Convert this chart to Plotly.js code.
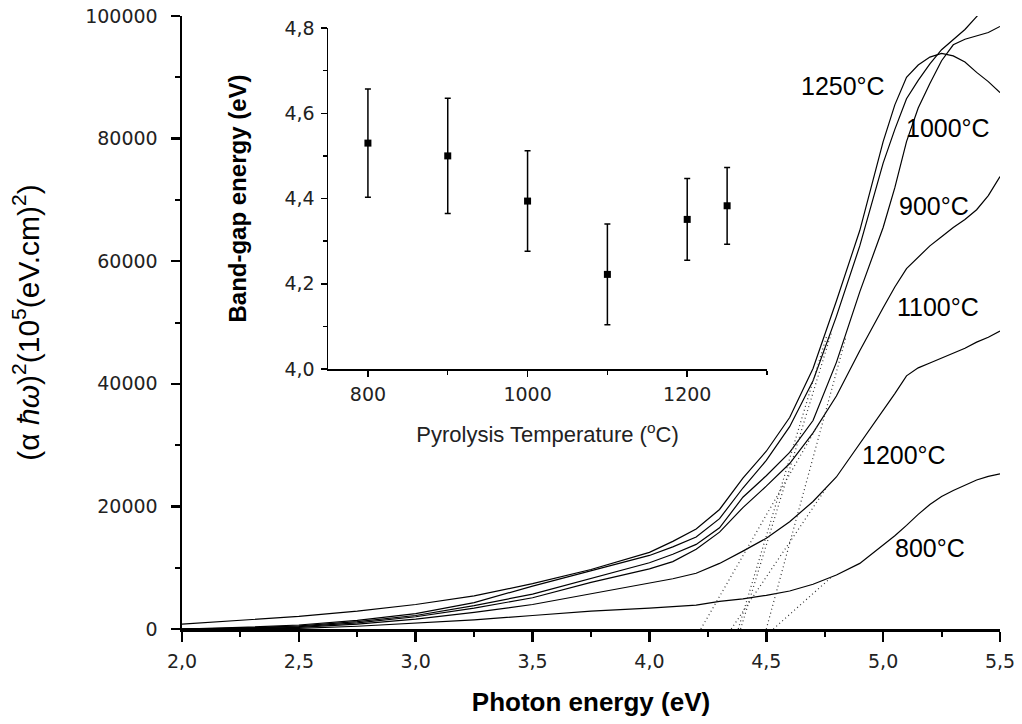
<!DOCTYPE html>
<html><head><meta charset="utf-8">
<script src="https://cdn.plot.ly/plotly-3.0.1.min.js"></script>
<style>html,body{margin:0;padding:0;background:#fff}#chart{width:1022px;height:724px}</style>
</head><body><div id="chart"></div>
<script>
// ---- main chart data: photon energy (eV) vs (alpha h-bar omega)^2 ----
const energy = [2.0, 2.25, 2.5, 2.75, 3.0, 3.25, 3.5, 3.75, 4.0, 4.1, 4.2, 4.3, 4.4, 4.5, 4.6, 4.7, 4.8, 4.9, 5.0, 5.05, 5.1, 5.15, 5.2, 5.25, 5.3, 5.35, 5.4, 5.45, 5.5];
const curve1250 = [800, 1400, 2050, 2900, 4000, 5400, 7400, 9700, 12500, 14300, 16300, 19500, 24600, 29000, 34500, 42500, 53500, 65000, 79500, 85500, 90000, 92000, 93300, 93900, 93500, 92500, 90800, 89300, 87500];
const curve1000 = [0, 250, 650, 1400, 2500, 4300, 7000, 9500, 12000, 13400, 15000, 18000, 23000, 27500, 33000, 40500, 51000, 62500, 76000, 81500, 86500, 89500, 92200, 94500, 96200, 97800, 99900, 102000, 104000];
const curve900 = [0, 150, 500, 1200, 2200, 3800, 5700, 8200, 10800, 12200, 13800, 16500, 21500, 25000, 28800, 34000, 43500, 55000, 65500, 72000, 79500, 85000, 89000, 92700, 95300, 96200, 96700, 97300, 98300];
const curve1100 = [0, 100, 400, 1000, 2000, 3400, 5100, 7600, 9800, 11000, 13000, 15800, 19800, 23300, 27000, 32000, 38000, 45400, 52400, 55800, 58800, 60700, 62500, 64000, 65500, 66800, 68400, 70700, 73800];
const curve1200 = [0, 50, 250, 800, 1600, 2700, 4000, 5700, 7400, 8200, 9100, 10700, 12700, 14800, 17500, 20800, 24800, 30200, 35600, 38400, 41300, 42600, 43400, 44200, 45000, 45800, 46800, 47600, 48600];
const curve800 = [0, 0, 100, 450, 1000, 1500, 2200, 2900, 3400, 3650, 3900, 4500, 4900, 5500, 6200, 7300, 8800, 10700, 13600, 15200, 16900, 18700, 20300, 21600, 22600, 23500, 24300, 24900, 25300];

// linear extrapolation (dotted) lines: start energy at zero, end point on the curve
const tangentTemps = [1250, 1000, 900, 1100, 1200, 800];
const tangentStartE = [4.38, 4.39, 4.50, 4.22, 4.35, 4.53];
const tangentEndE = [4.76, 4.78, 4.84, 4.72, 4.76, 4.78];
const tangentEndY = [48000, 48500, 47500, 33200, 23200, 8500];

// curve label texts and their anchor values
const labelTemps = [1250, 1000, 900, 1100, 1200, 800];
const labelE = [4.828, 5.278, 5.218, 5.235, 5.088, 5.20];
const labelY = [88600, 81700, 69000, 52600, 28400, 13200];

// ---- inset data: band-gap energy vs pyrolysis temperature ----
const insetTemps = [800, 900, 1000, 1100, 1200, 1250];
const bandGap = [4.53, 4.50, 4.394, 4.222, 4.351, 4.383];
const bandGapErr = [0.127, 0.135, 0.118, 0.118, 0.096, 0.09];

const mainTicksX = [2.0, 2.5, 3.0, 3.5, 4.0, 4.5, 5.0, 5.5];

const curves = [curve1250, curve1000, curve900, curve1100, curve1200, curve800];
const traces = [];
curves.forEach(c => traces.push({
  x: energy, y: c, type: 'scatter', mode: 'lines',
  line: {color: '#000', width: 1.2}, hoverinfo: 'skip', showlegend: false,
  xaxis: 'x', yaxis: 'y'
}));
tangentTemps.forEach((t, i) => traces.push({
  x: [tangentStartE[i], tangentEndE[i]], y: [0, tangentEndY[i]],
  type: 'scatter', mode: 'lines',
  line: {color: '#333', width: 1.2, dash: '1px,3px'}, hoverinfo: 'skip', showlegend: false,
  xaxis: 'x', yaxis: 'y'
}));
traces.push({
  x: insetTemps, y: bandGap, type: 'scatter', mode: 'markers',
  marker: {symbol: 'square', size: 7, color: '#000'},
  error_y: {type: 'data', array: bandGapErr, visible: true, color: '#000', thickness: 1.5, width: 3},
  hoverinfo: 'skip', showlegend: false, xaxis: 'x2', yaxis: 'y2'
});

const tickFont = {family: 'DejaVu Sans', size: 19, color: '#222'};
const annotations = labelTemps.map((t, i) => ({
  x: labelE[i], y: labelY[i], xref: 'x', yref: 'y', text: t + '°C', showarrow: false,
  font: {family: 'Liberation Sans', size: 25, color: '#000'}, xanchor: 'center', yanchor: 'middle'
}));

const layout = {
  width: 1022, height: 724,
  margin: {l: 182, r: 22, t: 16, b: 95},
  paper_bgcolor: '#fff', plot_bgcolor: 'rgba(0,0,0,0)',
  showlegend: false,
  separators: ',.',
  font: tickFont,
  xaxis: {
    range: [2, 5.5], tickmode: 'array', tickvals: mainTicksX, tickformat: '.1f',
    showline: true, linewidth: 2.5, linecolor: '#000', mirror: false,
    ticks: 'outside', ticklen: 10, tickwidth: 2.5, tickcolor: '#000',
    minor: {ticks: 'outside', ticklen: 5, tickwidth: 2, tickcolor: '#000', dtick: 0.25, tick0: 2, showgrid: false},
    showgrid: false, zeroline: false, tickfont: tickFont, ticklabelstandoff: 4,
    title: {text: 'Photon energy (eV)', standoff: 22, font: {family: 'Liberation Sans', size: 26, color: '#000', weight: 'bold'}},
    automargin: false
  },
  yaxis: {
    range: [0, 100000], tick0: 0, dtick: 20000, tickformat: 'd',
    showline: true, linewidth: 2.5, linecolor: '#000',
    ticks: 'outside', ticklen: 9, tickwidth: 2.5, tickcolor: '#000',
    minor: {ticks: 'outside', ticklen: 5, tickwidth: 2, tickcolor: '#000', dtick: 10000, tick0: 0, showgrid: false},
    showgrid: false, zeroline: false, tickfont: tickFont, ticklabelstandoff: 9,
    title: {text: '(α <i>ħω</i>)<sup>2</sup>(10<sup>5</sup>(eV.cm)<sup>2</sup>)', standoff: 37, font: {family: 'Liberation Sans', size: 30, color: '#000'}},
    automargin: false
  },
  xaxis2: {
    domain: [0.1785, 0.7152], anchor: 'y2', range: [750, 1300], tick0: 800, dtick: 200,
    showline: true, linewidth: 1.5, linecolor: '#000',
    ticks: 'outside', ticklen: 6, tickwidth: 1.5, tickcolor: '#000',
    minor: {ticks: 'outside', ticklen: 4, tickwidth: 1.5, tickcolor: '#000', dtick: 100, tick0: 800, showgrid: false},
    showgrid: false, zeroline: false, tickfont: tickFont, ticklabelstandoff: 2,
    title: {text: 'Pyrolysis Temperature (<sup>o</sup>C)', standoff: 22, font: {family: 'Liberation Sans', size: 22, color: '#222'}},
    automargin: false
  },
  yaxis2: {
    domain: [0.4241, 0.9804], anchor: 'x2', range: [4.0, 4.8], tick0: 4.0, dtick: 0.2, tickformat: '.1f',
    showline: true, linewidth: 1.5, linecolor: '#000',
    ticks: 'outside', ticklen: 6, tickwidth: 1.5, tickcolor: '#000',
    minor: {ticks: 'outside', ticklen: 4, tickwidth: 1.5, tickcolor: '#000', dtick: 0.1, tick0: 4.0, showgrid: false},
    showgrid: false, zeroline: false, tickfont: tickFont, ticklabelstandoff: 2,
    title: {text: 'Band-gap energy (eV)', standoff: 31, font: {family: 'Liberation Sans', size: 24, color: '#000', weight: 'bold'}},
    automargin: false
  },
  annotations: annotations
};

Plotly.newPlot('chart', traces, layout, {staticPlot: true, displayModeBar: false});
</script>
</body></html>
